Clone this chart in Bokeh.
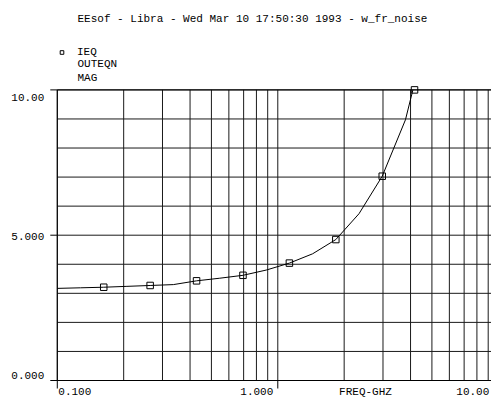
from math import pi
from bokeh.plotting import figure
from bokeh.models import Label, Legend, LegendItem, Range1d
from bokeh.embed import file_html
from bokeh.resources import INLINE

# ---- data ----
freq_ghz = [0.100, 0.1274, 0.1624, 0.2069, 0.2637, 0.3360, 0.4281, 0.5456,
            0.6952, 0.8859, 1.1288, 1.4385, 1.8330, 2.3357, 2.9764, 3.7927, 4.10]
mag = [3.17, 3.19, 3.21, 3.24, 3.27, 3.30, 3.43, 3.52,
       3.62, 3.80, 4.04, 4.36, 4.85, 5.74, 7.03, 8.97, 10.0]
marker_freq = [0.1624, 0.2637, 0.4281, 0.6952, 1.1288, 1.8330, 2.9764, 4.17]
marker_mag = [3.21, 3.27, 3.43, 3.62, 4.04, 4.85, 7.03, 10.0]

x_tick_values = [0.1, 1.0, 10.0]
x_tick_labels = ["0.100", "1.000", "10.00"]
y_tick_values = [10.0, 5.0, 0.0]
y_tick_labels = ["10.00", "5.000", "0.000"]
x_grid_values = [0.1, 0.2, 0.3, 0.4, 0.5, 0.6, 0.7, 0.8, 0.9,
                 1, 2, 3, 4, 5, 6, 7, 8, 9]
y_grid_values = [0, 1, 2, 3, 4, 5, 6, 7, 8, 9, 10]

title_text = "EEsof - Libra - Wed Mar 10 17:50:30 1993 - w_fr_noise"
legend_lines = ["IEQ", "OUTEQN", "MAG"]
x_axis_title = "FREQ-GHZ"

# view window (whole canvas) in data units, so the labels around the grid are not clipped
X_VIEW = (0.05526, 9.316)
Y_VIEW = (-0.619, 13.076)

FONT = "Liberation Mono"
FS = "11px"
GRID = "#1a1a1a"

p = figure(width=491, height=398, x_axis_type="log",
           x_range=Range1d(*X_VIEW), y_range=Range1d(*Y_VIEW),
           output_backend="svg", toolbar_location=None,
           min_border=0)
p.xaxis.visible = False
p.yaxis.visible = False
p.xgrid.visible = False
p.ygrid.visible = False
p.outline_line_color = None

x0, x1 = x_tick_values[0], x_tick_values[-1]
y0, y1 = y_grid_values[0], y_grid_values[-1]

# grid lines
p.segment(x0=x_grid_values, y0=[y0] * len(x_grid_values),
          x1=x_grid_values, y1=[y1] * len(x_grid_values),
          line_color=GRID, line_width=1)
p.segment(x0=[x0] * len(y_grid_values), y0=y_grid_values,
          x1=[x1] * len(y_grid_values), y1=y_grid_values,
          line_color=GRID, line_width=1)

# axis lines and tick marks
p.segment(x0=[x0, x0, x0], y0=[y0, y0, y1], x1=[x0, x1, x1], y1=[y1, y0, y1],
          line_color="black", line_width=1)
p.ray(x=[x0] * len(y_tick_values), y=y_tick_values, length=7,
      length_units="screen", angle=pi, line_color="black", line_width=1)
p.ray(x=x_tick_values[:2], y=[y0, y0], length=8, length_units="screen",
      angle=-pi / 2, line_color="black", line_width=1)

# data
line_r = p.line(freq_ghz, mag, line_color="black", line_width=1)
mark_r = p.scatter(marker_freq, marker_mag, marker="square", size=6.5,
                   fill_color=None, line_color="black", line_width=1)

# title
p.add_layout(Label(x=77, y=380, x_units="screen", y_units="screen",
                   text=title_text, text_font=FONT, text_font_size=FS,
                   text_baseline="middle", text_align="left", text_color="black"))

# legend
legend = Legend(items=[LegendItem(label=legend_lines[0], renderers=[mark_r])],
                location=(57, 340), padding=0, margin=0, spacing=0,
                border_line_color=None, background_fill_alpha=0,
                glyph_width=9, glyph_height=12, label_height=12,
                label_standoff=11,
                label_text_font=FONT, label_text_font_size=FS,
                label_text_color="black")
p.add_layout(legend, "center")
for i, t in enumerate(legend_lines[1:]):
    p.add_layout(Label(x=77, y=335 - 14 * i, x_units="screen", y_units="screen",
                       text=t, text_font=FONT, text_font_size=FS,
                       text_baseline="middle", text_align="left", text_color="black"))

# y tick labels
y_offs = [-7.5, -1, 4.7]
for v, t, off in zip(y_tick_values, y_tick_labels, y_offs):
    p.add_layout(Label(x=x0, y=v, x_offset=-13, y_offset=off, text=t,
                       text_font=FONT, text_font_size=FS, text_align="right",
                       text_baseline="middle", text_color="black"))

# x tick labels
x_offs = [1, -4.5, -9]
x_aligns = ["left", "right", "right"]
for v, t, off, al in zip(x_tick_values, x_tick_labels, x_offs, x_aligns):
    p.add_layout(Label(x=v, y=y0, x_offset=off, y_offset=-11, text=t,
                       text_font=FONT, text_font_size=FS, text_align=al,
                       text_baseline="middle", text_color="black"))

p.add_layout(Label(x=365, y=7, x_units="screen", y_units="screen",
                   text=x_axis_title, text_font=FONT, text_font_size=FS,
                   text_align="center", text_baseline="middle", text_color="black"))

open("out.html", "w").write(file_html(p, INLINE))
